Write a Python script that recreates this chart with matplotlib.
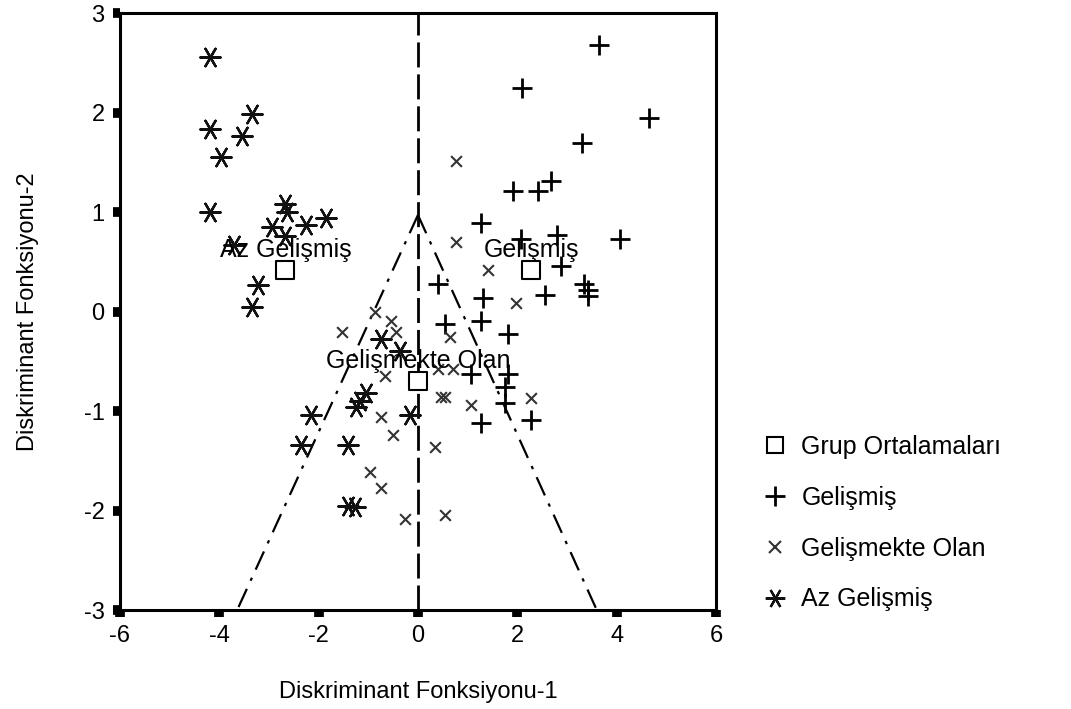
import matplotlib
matplotlib.use("Agg")
import matplotlib.pyplot as plt
from matplotlib.lines import Line2D

plt.rcParams['font.family'] = ['Liberation Sans', 'DejaVu Sans']
plt.rcParams['axes.unicode_minus'] = False

# Gelişmiş (+)
gel_x = [3.64, 2.10, 4.65, 3.31, 1.92, 2.42, 2.67, 1.27, 2.08, 2.79, 4.06, 2.89,
         3.35, 3.43, 3.43, 1.31, 2.55, 0.40, 0.55, 1.27, 1.82, 1.07, 1.82, 1.76,
         1.76, 1.27, 2.28]
gel_y = [2.68, 2.25, 1.95, 1.69, 1.21, 1.21, 1.31, 0.89, 0.73, 0.77, 0.73, 0.46,
         0.28, 0.22, 0.16, 0.14, 0.17, 0.28, -0.13, -0.10, -0.23, -0.63, -0.63, -0.76,
         -0.92, -1.12, -1.09]

# Gelişmekte Olan (x)
gol_x = [0.77, 0.77, 1.41, 1.98, -1.52, -0.55, -0.44, -0.67, -0.75, -0.51, -0.97,
         -0.75, -0.26, 0.34, 0.46, 0.65, 0.40, 0.71, 0.55, 1.07, 2.28, 0.55, -0.87]
gol_y = [1.51, 0.70, 0.42, 0.09, -0.21, -0.10, -0.21, -0.65, -1.06, -1.24, -1.61,
         -1.77, -2.09, -1.36, -0.86, -0.26, -0.58, -0.58, -0.86, -0.94, -0.87, -2.04, 0.0]

# Az Gelişmiş (asterisk)
az_x = [-4.18, -3.35, -4.18, -3.54, -3.96, -4.18, -2.67, -2.63, -2.93, -2.67, -2.26,
        -1.86, -3.70, -3.23, -3.35, -0.75, -0.36, -1.05, -1.25, -1.17, -2.16, -2.36,
        -1.41, -1.40, -1.27, -0.16]
az_y = [2.56, 1.99, 1.83, 1.76, 1.55, 1.00, 1.08, 1.00, 0.85, 0.76, 0.87,
        0.94, 0.67, 0.27, 0.05, -0.28, -0.40, -0.82, -0.96, -0.90, -1.04, -1.34,
        -1.34, -1.95, -1.96, -1.04]

# Grup ortalamaları
groups = ['Az Gelişmiş', 'Gelişmiş', 'Gelişmekte Olan']
cent_x = [-2.67, 2.28, 0.0]
cent_y = [0.42, 0.42, -0.70]

# territorial map boundaries
apex = (0.0, 0.97)
left_end = (-3.64, -3.0)
right_end = (3.60, -3.0)

fig = plt.figure(figsize=(10.71, 7.09), dpi=100)
ax = fig.add_axes([0.112, 0.1396, 0.5565, 0.842])

ax.axvline(0, color='black', lw=2, linestyle=(0, (9, 2.5)), zorder=1)
ax.plot([apex[0], left_end[0]], [apex[1], left_end[1]], color='black', lw=1.6,
        linestyle=(0, (9, 4, 1.5, 4)), zorder=1)
ax.plot([apex[0], right_end[0]], [apex[1], right_end[1]], color='black', lw=1.6,
        linestyle=(0, (9, 4, 1.5, 4)), zorder=1)

ax.scatter(gel_x, gel_y, marker='+', s=220, color='black', linewidths=2, zorder=3)
ax.scatter(gol_x, gol_y, marker='x', s=60, color='#333333', linewidths=1.5, zorder=3)
ax.scatter(az_x, az_y, marker=(6, 2, 90), s=210, color='#111111', linewidths=1.7, zorder=3)
ax.scatter(cent_x, cent_y, marker='s', s=150, facecolors='white', edgecolors='black',
           linewidths=1.5, zorder=4)

for g, cx, cy in zip(groups, cent_x, cent_y):
    ax.text(cx, cy + 0.2, g, ha='center', va='center', fontsize=18, zorder=5)

ax.set_xlim(-6, 6)
ax.set_ylim(-3, 3)
ax.set_xticks([-6, -4, -2, 0, 2, 4, 6])
ax.set_yticks([-3, -2, -1, 0, 1, 2, 3])
ax.tick_params(direction='out', length=5, width=7, labelsize=17, pad=6)
for sp in ax.spines.values():
    sp.set_linewidth(2.2)

ax.set_xlabel('Diskriminant Fonksiyonu-1', fontsize=17, labelpad=24)
ax.set_ylabel('Diskriminant Fonksiyonu-2', fontsize=17, labelpad=32)

handles = [
    Line2D([], [], marker='s', markersize=11, markerfacecolor='white',
           markeredgecolor='black', markeredgewidth=1.5, linestyle='none'),
    Line2D([], [], marker='+', markersize=15, color='black', markeredgewidth=2, linestyle='none'),
    Line2D([], [], marker='x', markersize=8, color='#333333', markeredgewidth=1.5, linestyle='none'),
    Line2D([], [], marker=(6, 2, 90), markersize=14, color='#111111', markeredgewidth=1.6,
           linestyle='none'),
]
labels = ['Grup Ortalamaları', 'Gelişmiş', 'Gelişmekte Olan', 'Az Gelişmiş']
fig.legend(handles, labels, loc='upper left', bbox_to_anchor=(0.691, 0.418),
           frameon=False, fontsize=18, labelspacing=1.07, handletextpad=0.55,
           handlelength=1.0)

fig.savefig('out.png', dpi=100)
